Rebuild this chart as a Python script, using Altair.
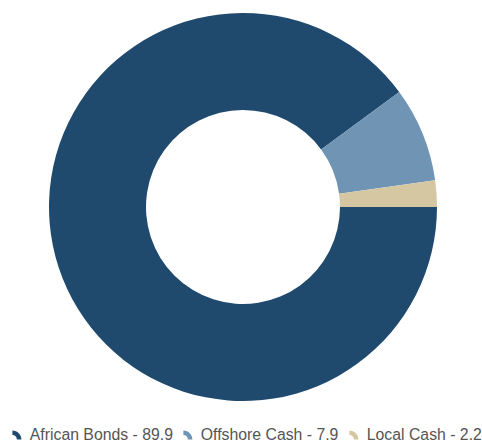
import math
import altair as alt
import pandas as pd

categories = ["African Bonds", "Offshore Cash", "Local Cash"]
values = [89.9, 7.9, 2.2]
colors = ["#1f4a6e", "#7094b3", "#d6c7a3"]

labels = [f"{c} - {v}" for c, v in zip(categories, values)]
df = pd.DataFrame({"label": labels, "value": values, "order": list(range(len(values)))})

sym = "M -1 -1 A 2 2 0 0 1 1 1 L 0 1 A 1 1 0 0 0 -1 0 Z"

chart = alt.Chart(df).mark_arc(outerRadius=194, innerRadius=97, stroke=None).encode(
    theta=alt.Theta("value:Q", stack=True,
                    scale=alt.Scale(range=[math.pi / 2, math.pi / 2 + 2 * math.pi])),
    order=alt.Order("order:Q"),
    color=alt.Color("label:N",
                    scale=alt.Scale(domain=labels, range=colors),
                    legend=alt.Legend(title=None, orient="none", direction="horizontal",
                                      legendX=9, legendY=427,
                                      symbolType=sym, symbolSize=81,
                                      symbolStrokeWidth=0, symbolOpacity=1,
                                      labelFont="Liberation Sans", labelFontSize=15.8,
                                      labelColor="#555555", columnPadding=7,
                                      labelOffset=5)),
    x=alt.value(243),
    y=alt.value(207),
).properties(width=482, height=442, autosize=alt.AutoSizeParams(type="none"), padding=0
).configure_view(stroke=None)

chart.save("out.html", embed_options={"renderer": "svg", "actions": False})
